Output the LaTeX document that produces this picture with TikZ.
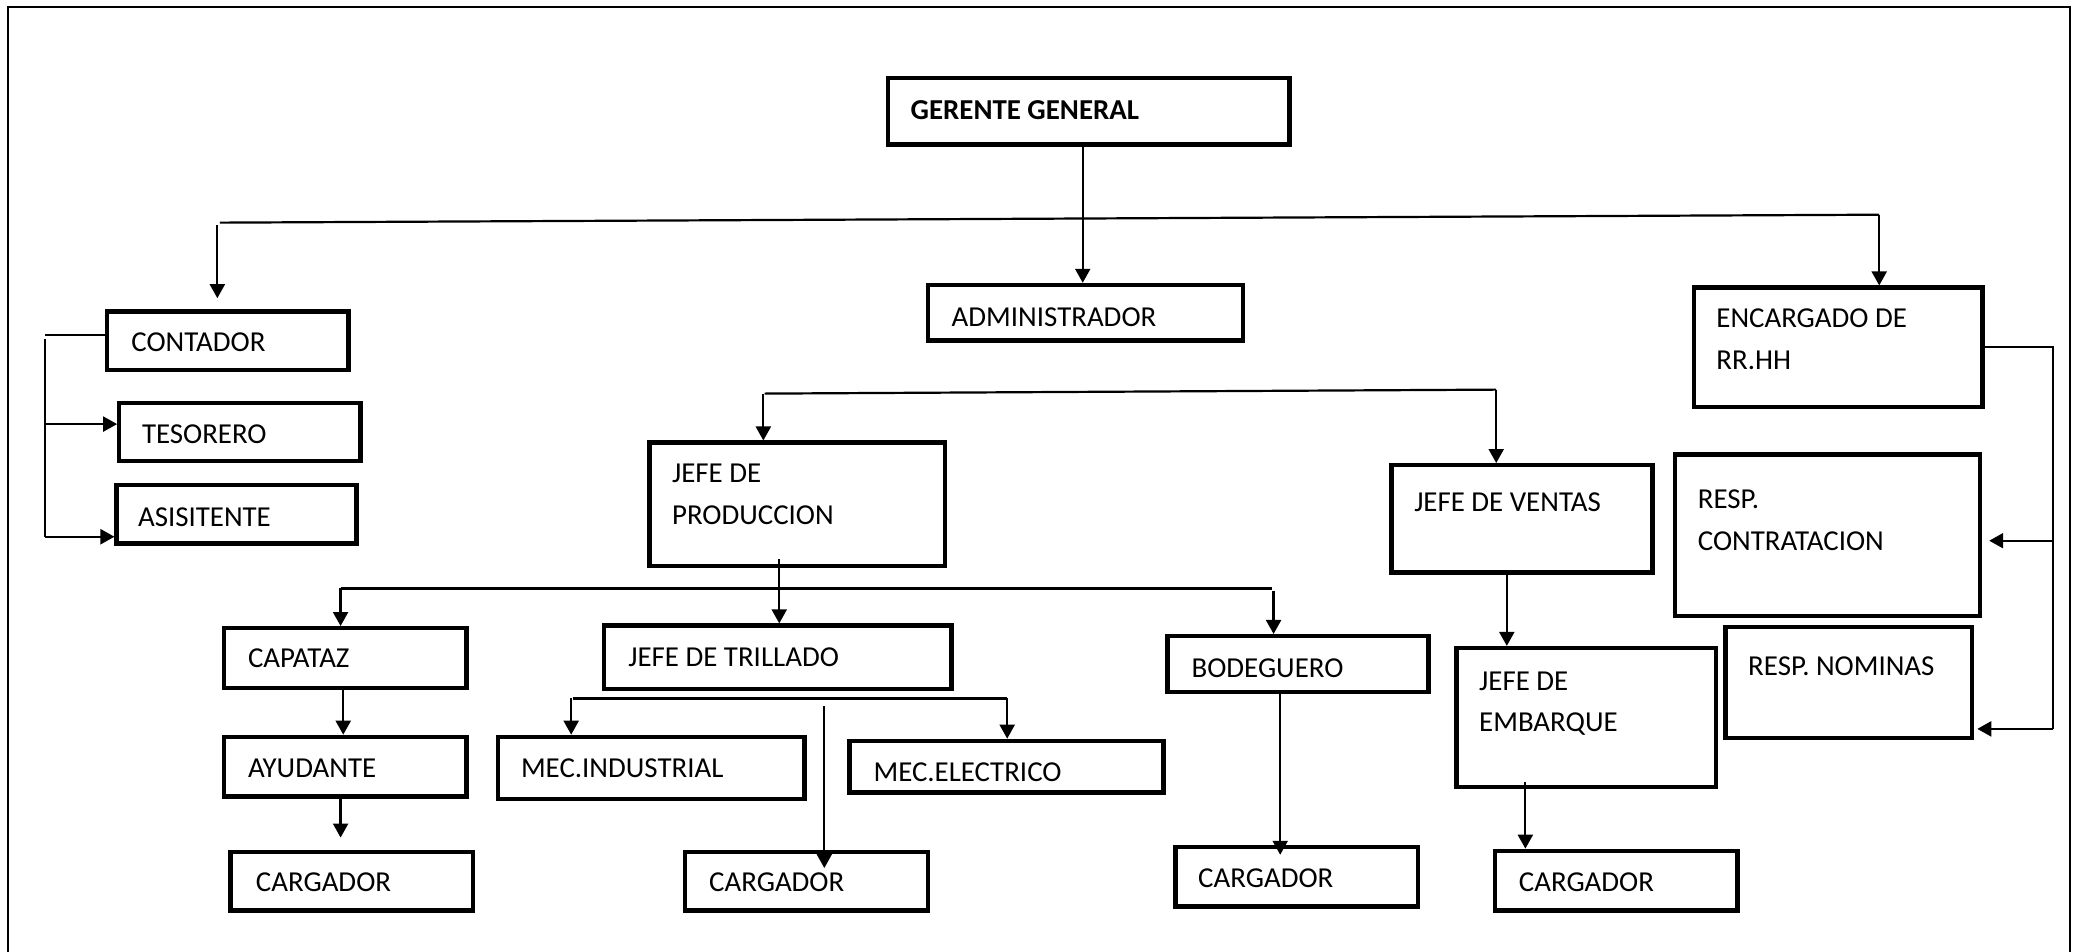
\documentclass[tikz,border=0pt]{standalone}
\usepackage{fontspec}
\setmainfont{Carlito}
\usetikzlibrary{arrows.meta,fit}

% box: name, x1, y1, x2, y2, text x, text y, text
\newcommand\orgbox[8]{%
  \node[box, fit={(#2,#3) (#4,#5)}] (#1) {};
  \node[txt] (#1-t) at (#6,#7) {#8};
}

\begin{document}
\begin{tikzpicture}[x=1.3253bp,y=-1.3253bp,
  box/.style={draw, line width=4.3bp, inner sep=0pt},
  txt/.style={anchor=west, inner sep=0pt, align=left,
              font=\fontsize{29}{41.5}\selectfont},
  conn/.style={line width=2.2bp},
  arr/.style={conn, -{Triangle[length=14bp,width=15bp]}}]

\useasboundingbox (0,0) rectangle (1568,718);
\fill[white] (0,0) rectangle (1568,718);
% page frame (its lower edge lies below the page)
\draw[line width=2bp] (6,5) rectangle (1562,740);

% boxes
\orgbox{gg}{670}{59}{973}{109}{687}{83}{\bfseries GERENTE GENERAL}
\orgbox{adm}{700}{215}{938}{257}{718}{239}{ADMINISTRADOR}
\orgbox{cont}{81}{235}{263}{279}{99}{258}{CONTADOR}
\orgbox{tes}{90}{304}{272}{348}{107}{328}{TESORERO}
\orgbox{asi}{88}{366}{269}{410}{104}{390}{ASISITENTE}
\orgbox{enc}{1278}{217}{1496}{307}{1295}{256}{ENCARGADO DE\\RR.HH}
\orgbox{jp}{490}{334}{713}{427}{507}{373}{JEFE DE\\PRODUCCION}
\orgbox{jv}{1050}{351}{1247}{432}{1067}{379}{JEFE DE VENTAS}
\orgbox{rc}{1264}{343}{1494}{465}{1281}{392.5}{RESP.\\CONTRATACION}
\orgbox{rn}{1302}{473}{1488}{557}{1319}{503}{RESP. NOMINAS}
\orgbox{cap}{169}{474}{352}{519}{187}{497}{CAPATAZ}
\orgbox{jt}{456}{472}{718}{520}{474}{496}{JEFE DE TRILLADO}
\orgbox{bod}{881}{480}{1078}{522}{899}{504}{BODEGUERO}
\orgbox{je}{1099}{489}{1295}{594}{1116}{531}{JEFE DE\\EMBARQUE}
\orgbox{ayu}{169}{556}{352}{601}{187}{580}{AYUDANTE}
\orgbox{mi}{376}{556}{607}{603}{393}{580}{MEC.INDUSTRIAL}
\orgbox{me}{641}{559}{878}{598}{659}{583}{MEC.ELECTRICO}
\orgbox{ca1}{174}{643}{357}{687}{193}{666}{CARGADOR}
\orgbox{ca2}{517}{643}{700}{687}{535}{666}{CARGADOR}
\orgbox{ca3}{887}{639}{1070}{684}{904}{663}{CARGADOR}
\orgbox{ca4}{1128}{642}{1311}{687}{1146}{666}{CARGADOR}

% gerente general
\coordinate (xa) at (817,0);
\draw[arr] (gg.south -| xa) -- (adm.north -| xa);
\coordinate (t1) at (166,168);
\coordinate (t2) at (1418,162);
\coordinate (t3) at (164,170);
\coordinate (t4) at (164,225);
\draw[conn] (t1) -- (t2);
\draw[arr] (t3) -- (t4);
\draw[arr] (t2) -- (enc.north -| t2);

% contador
\coordinate (k1) at (34,253);
\coordinate (k2) at (34,256);
\coordinate (k3) at (34,320);
\coordinate (k4) at (34,405);
\draw[conn] (cont.west |- k1) -- (k1);
\draw[conn] (k2) -- (k4);
\draw[arr] (k3) -- (k3 -| tes.west);
\draw[arr] (k4) -- (k4 -| asi.west);

% administrador
\coordinate (a1) at (577,297);
\coordinate (a2) at (1129,294);
\coordinate (a3) at (576,297);
\draw[conn] (a1) -- (a2);
\draw[arr] (a3) -- (jp.north -| a3);
\draw[arr] (a2) -- (jv.north -| a2);

% recursos humanos
\coordinate (r1) at (1549,262);
\coordinate (r2) at (1549,550);
\coordinate (r3) at (1549,408);
\coordinate (r3e) at (1501,408);
\coordinate (r2e) at (1492,550);
\draw[conn] (enc.east |- r1) -- (r1) -- (r2);
\draw[arr] (r3) -- (r3e);
\draw[arr] (r2) -- (r2e);

% produccion
\coordinate (p1) at (588,422);
\coordinate (p2) at (257,444);
\coordinate (p3) at (960,444);
\coordinate (p4) at (961,446);
\draw[arr] (p1) -- (jt.north -| p1);
\draw[conn] (p2) -- (p3);
\draw[arr] (p2) -- (cap.north -| p2);
\draw[arr] (p4) -- (bod.north -| p4);

% ventas
\coordinate (v1) at (1137,0);
\draw[arr] (jv.south -| v1) -- (je.north -| v1);
\coordinate (e1) at (1151,590);
\draw[arr] (e1) -- (ca4.north -| e1);

% capataz
\coordinate (q1) at (259,0);
\coordinate (q2) at (257,0);
\coordinate (q3) at (257,632);
\draw[arr] (cap.south -| q1) -- (ayu.north -| q1);
\draw[arr] (ayu.south -| q2) -- (q3);

% trillado
\coordinate (m1) at (432,527);
\coordinate (m2) at (760,527);
\coordinate (m3) at (431,527);
\coordinate (m4) at (622,533);
\coordinate (m5) at (622,655);
\draw[conn] (m1) -- (m2);
\draw[arr] (m3) -- (mi.north -| m3);
\draw[arr] (m2) -- (me.north -| m2);
\draw[arr] (m4) -- (m5);

% bodeguero
\coordinate (b1) at (966,0);
\coordinate (b2) at (966,645);
\draw[arr] (bod.south -| b1) -- (b2);
\end{tikzpicture}
\end{document}
